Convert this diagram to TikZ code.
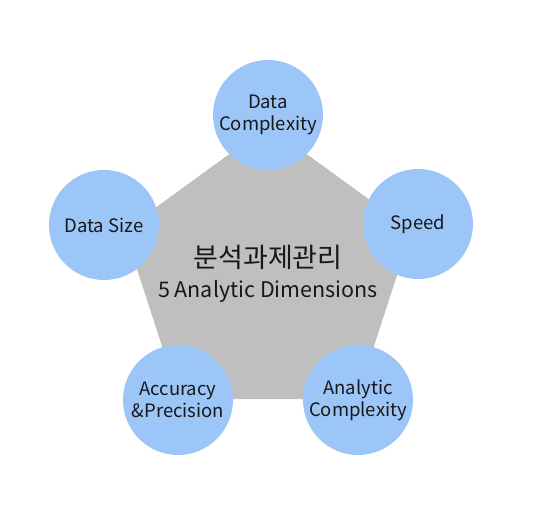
\documentclass[tikz,border=0pt]{standalone}
\usepackage{fontspec}
\setmainfont{Noto Sans CJK KR}
\definecolor{dimblue}{RGB}{155,198,247}
\definecolor{pentgray}{RGB}{191,191,191}
\definecolor{inkdark}{RGB}{24,24,24}

\begin{document}
\begin{tikzpicture}[x=1pt, y=1pt,
		dimcircle/.style={circle, fill=dimblue, minimum size=110pt, inner sep=0pt,
			align=center, text=inkdark, font=\fontsize{18.5}{22}\selectfont}]
			%%%%% START %%%%%
			
			\useasboundingbox (0, 0) rectangle (536, 520);
			
			\fill[pentgray, shift={(268, 243)}] (90:151) -- (162:151) -- (234:151) -- (306:151) -- (18:151) -- cycle;
			
			\node[dimcircle] (datacomplex) at (268, 405) {Data\\Complexity};
			\node[dimcircle] (speed) at (418, 296) {Speed};
			\node[dimcircle] (analytic) at (358, 120) {Analytic\\Complexity};
			\node[dimcircle] (accuracy) at (178, 120) {Accuracy\\\&Precision};
			\node[dimcircle] (datasize) at (104, 295) {Data Size};
			
			\node[text=inkdark, font=\fontsize{27}{30}\selectfont] (title) at (268, 263) {분석과제관리};
			\node[text=inkdark, font=\fontsize{21.5}{26}\selectfont, anchor=base] (subtitle) at (268, 222) {5 Analytic Dimensions};
			
			%%%%% END %%%%%
		\end{tikzpicture}
\end{document}
